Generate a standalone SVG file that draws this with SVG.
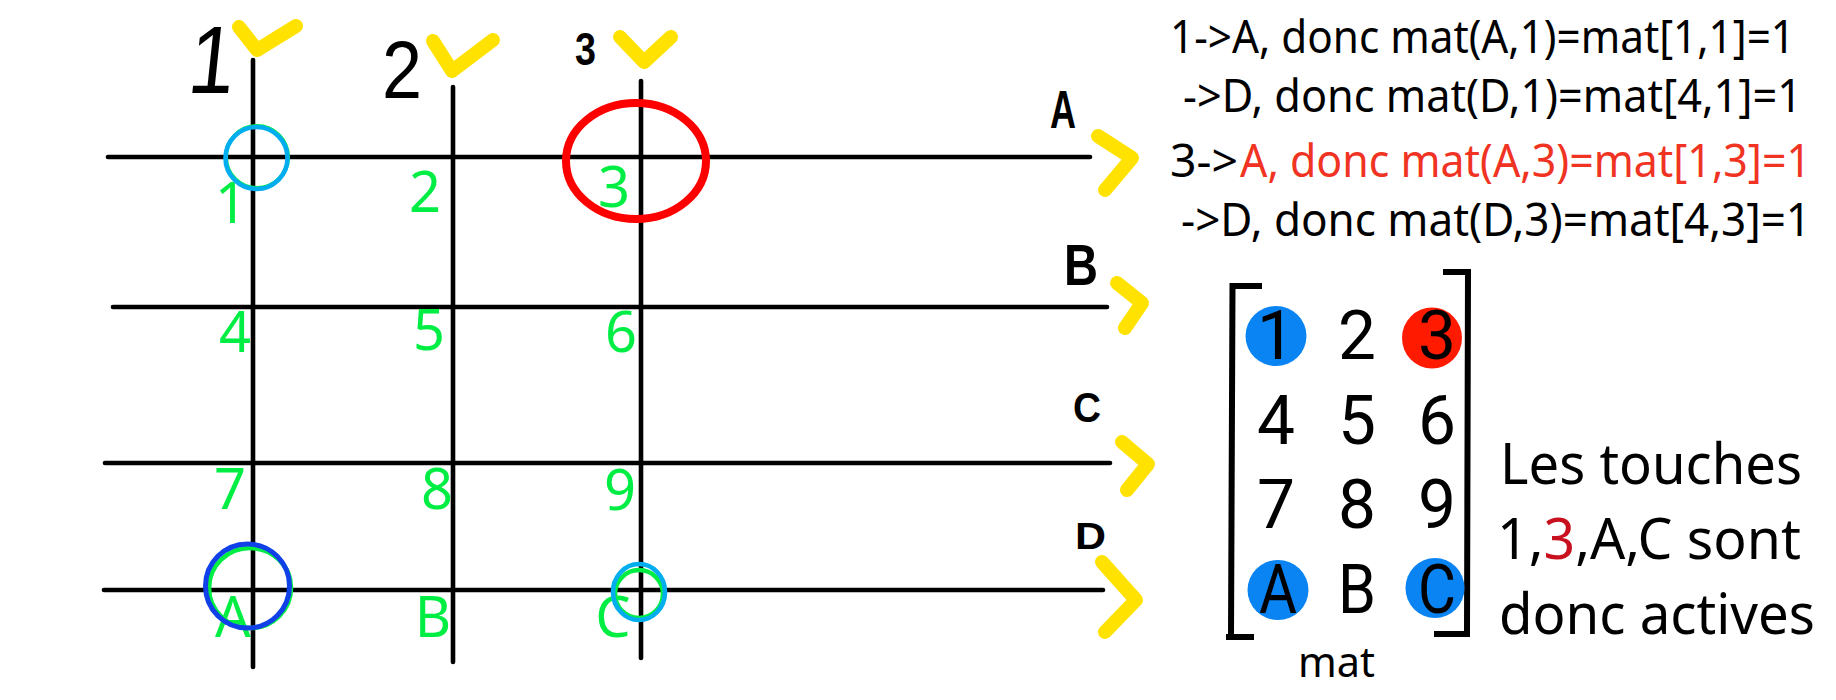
<svg xmlns="http://www.w3.org/2000/svg" width="1836" height="700" viewBox="0 0 1836 700">
<style>
text{font-family:"Noto Sans","Open Sans",sans-serif}
.g{fill:#00ee44;font-size:56px;text-anchor:middle}
.line{stroke:#000;stroke-width:4.6;stroke-linecap:round;fill:none}
.y{stroke:#ffe200;stroke-width:14;stroke-linecap:round;stroke-linejoin:round;fill:none}
.h{fill:#000;font-family:"Liberation Sans",Arial,sans-serif}
.t{fill:#000;font-size:43px}
.m{fill:#000;font-size:68px;font-family:Roboto,"Noto Sans",sans-serif}
.b{fill:#0a84f2}
.r{fill:#ff1a00}
.s{fill:#000;font-size:57px}
.br{stroke:#000;stroke-width:6;fill:none}
</style>
<rect width="1836" height="700" fill="#fff"/>
<g id="connectors">
<line class="line" x1="253" y1="60" x2="253" y2="667"/>
<line class="line" x1="453" y1="87" x2="453" y2="662"/>
<line class="line" x1="641" y1="81" x2="641" y2="658"/>
<line class="line" x1="108" y1="157" x2="1090" y2="157"/>
<line class="line" x1="113" y1="307" x2="1107" y2="307"/>
<line class="line" x1="105" y1="463" x2="1110" y2="463"/>
<line class="line" x1="104" y1="590" x2="1103" y2="590"/>
</g>
<g id="column-marks">
<polyline class="y" points="239,27 257,50 296,26"/>
<polyline class="y" points="433,41 452,71 493,40"/>
<polyline class="y" points="620,37 644,62 671,37"/>
<polyline class="y" points="1098,136 1132,158 1105,190"/>
<polyline class="y" points="1117,283 1142,303 1125,328"/>
<polyline class="y" points="1122,442 1148,464 1127,490"/>
<polyline class="y" points="1102,562 1136,600 1105,632"/>
</g>
<g id="col-labels">
<text class="h" transform="translate(186,93) skewX(-6)" font-size="96" textLength="46" lengthAdjust="spacingAndGlyphs">1</text>
<text class="h" x="382" y="98" font-size="82" textLength="40" lengthAdjust="spacingAndGlyphs">2</text>
<text class="h" x="575" y="65" font-size="46" font-weight="700" textLength="21" lengthAdjust="spacingAndGlyphs">3</text>
</g>
<g id="row-labels">
<text class="h" x="1050" y="128" font-size="54" font-weight="700" textLength="26" lengthAdjust="spacingAndGlyphs">A</text>
<text class="h" x="1064" y="285" font-size="58" font-weight="700" textLength="34" lengthAdjust="spacingAndGlyphs">B</text>
<text class="h" x="1073" y="422" font-size="42" font-weight="700" textLength="28" lengthAdjust="spacingAndGlyphs">C</text>
<text class="h" x="1075" y="549" font-size="36" font-weight="700" textLength="31" lengthAdjust="spacingAndGlyphs">D</text>
</g>
<g id="keys">
<g id="key-1"><text class="g" x="231" y="223">1</text></g>
<g id="key-2"><text class="g" x="425" y="212">2</text></g>
<g id="key-3"><text class="g" x="614" y="207">3</text></g>
<g id="key-4"><text class="g" x="235" y="352">4</text></g>
<g id="key-5"><text class="g" x="429" y="350">5</text></g>
<g id="key-6"><text class="g" x="621" y="352">6</text></g>
<g id="key-7"><text class="g" x="230" y="509">7</text></g>
<g id="key-8"><text class="g" x="437" y="509">8</text></g>
<g id="key-9"><text class="g" x="620" y="510">9</text></g>
<g id="key-A"><text class="g" x="233" y="637">A</text></g>
<g id="key-B"><text class="g" x="433" y="637">B</text></g>
<g id="key-C"><text class="g" x="613" y="637">C</text></g>
</g>
<g id="highlights" fill="none">
<circle cx="257" cy="157" r="31" stroke="#00ee44" stroke-width="4"/>
<circle cx="256.5" cy="158" r="31" stroke="#00aeef" stroke-width="4.6"/>
<ellipse cx="250" cy="588" rx="41" ry="40" stroke="#00ee44" stroke-width="4.6"/>
<ellipse cx="247.5" cy="586" rx="42" ry="42" stroke="#1040e8" stroke-width="5"/>
<ellipse cx="639" cy="594" rx="24" ry="24" stroke="#00ee44" stroke-width="4.6"/>
<ellipse cx="639" cy="592" rx="26" ry="28" stroke="#00aeef" stroke-width="4.6"/>
<ellipse cx="636" cy="161" rx="70" ry="58" stroke="#ff0000" stroke-width="8"/>
</g>
<g id="equations">
<text class="t" transform="translate(1170,53) scale(1,1.08)" textLength="625" lengthAdjust="spacingAndGlyphs">1-&gt;A, donc mat(A,1)=mat[1,1]=1</text>
<text class="t" transform="translate(1183,112) scale(1,1.08)" textLength="619" lengthAdjust="spacingAndGlyphs">-&gt;D, donc mat(D,1)=mat[4,1]=1</text>
<text class="t" transform="translate(1170,177) scale(1,1.08)" textLength="68" lengthAdjust="spacingAndGlyphs">3-&gt;</text>
<text class="t" transform="translate(1240,177) scale(1,1.08)" style="fill:#f03322" textLength="571" lengthAdjust="spacingAndGlyphs">A, donc mat(A,3)=mat[1,3]=1</text>
<text class="t" transform="translate(1181,236) scale(1,1.08)" textLength="630" lengthAdjust="spacingAndGlyphs">-&gt;D, donc mat(D,3)=mat[4,3]=1</text>
</g>
<g id="matrix">
<path class="br" d="M1262,286H1232.5L1231,637M1226,637H1254"/>
<path class="br" d="M1443,272H1468L1467,634H1434"/>
<ellipse class="b" cx="1276" cy="336" rx="30.5" ry="30"/>
<ellipse class="r" cx="1432" cy="338" rx="30" ry="30.5"/>
<ellipse class="b" cx="1278" cy="590" rx="30.5" ry="30"/>
<ellipse class="b" cx="1435" cy="588" rx="29.5" ry="30"/>
<text class="m" x="1257" y="359" textLength="38" lengthAdjust="spacingAndGlyphs">1</text>
<text class="m" x="1338" y="359" textLength="38" lengthAdjust="spacingAndGlyphs">2</text>
<text class="m" x="1418" y="359" textLength="38" lengthAdjust="spacingAndGlyphs">3</text>
<text class="m" x="1257" y="444" textLength="38" lengthAdjust="spacingAndGlyphs">4</text>
<text class="m" x="1338" y="444" textLength="38" lengthAdjust="spacingAndGlyphs">5</text>
<text class="m" x="1418" y="444" textLength="38" lengthAdjust="spacingAndGlyphs">6</text>
<text class="m" x="1257" y="528" textLength="38" lengthAdjust="spacingAndGlyphs">7</text>
<text class="m" x="1338" y="528" textLength="38" lengthAdjust="spacingAndGlyphs">8</text>
<text class="m" x="1418" y="528" textLength="38" lengthAdjust="spacingAndGlyphs">9</text>
<text class="m" x="1259" y="613" textLength="38" lengthAdjust="spacingAndGlyphs">A</text>
<text class="m" x="1338" y="613" textLength="38" lengthAdjust="spacingAndGlyphs">B</text>
<text class="m" x="1418" y="613" textLength="38" lengthAdjust="spacingAndGlyphs">C</text>
<text x="1298" y="677" font-size="42" fill="#000" textLength="77" lengthAdjust="spacingAndGlyphs">mat</text>
</g>
<g id="conclusion">
<text class="s" x="1500" y="484" textLength="302" lengthAdjust="spacingAndGlyphs">Les touches</text>
<text class="s" x="1497" y="559" textLength="304" lengthAdjust="spacingAndGlyphs">1,<tspan fill="#c8101e">3</tspan>,A,C sont</text>
<text class="s" x="1499" y="634" textLength="316" lengthAdjust="spacingAndGlyphs">donc actives</text>
</g>
</svg>
